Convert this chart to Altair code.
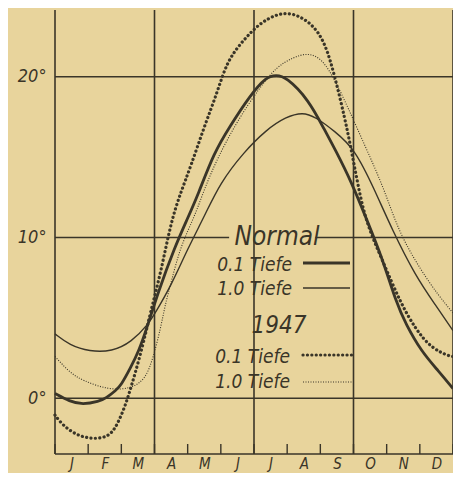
import altair as alt
import pandas as pd

BG = "#e8d49c"
INK = "#3a3528"
FONT = "'DejaVu Sans Condensed', 'Liberation Sans Narrow', 'DejaVu Sans', sans-serif"

# ---- categories / ticks ----
months = ["J", "F", "M", "A", "M", "J", "J", "A", "S", "O", "N", "D"]
month_centers = [i + 0.5 for i in range(12)]
month_bounds = list(range(13))
grid_months = [0, 3, 6, 9, 12]
y_ticks = [0, 10, 20]
y_bottom, y_top = -3.47, 24.15

# ---- series (x = month position 0..12, y = temperature °C) ----
normal01_m = [0, 0.44, 0.83, 1.33, 1.54, 1.84, 1.99, 2.28, 2.52, 2.76, 3.11, 3.61, 4.0, 4.30,
              4.80, 5.27, 5.87, 6.37, 6.67, 6.96, 7.64, 8.15, 8.44, 8.95, 9.42, 9.87, 10.28,
              10.58, 11.05, 11.56, 12.0]
normal01_t = [0.3, -0.2, -0.4, -0.2, 0.0, 0.5, 0.8, 1.9, 2.9, 4.3, 6.6, 9.4, 11.2, 12.6,
              15.3, 16.9, 18.8, 20.0, 20.1, 20.0, 18.6, 16.6, 15.5, 13.4, 11.0, 8.7, 6.0,
              4.6, 2.9, 1.7, 0.6]

normal10_m = [0, 0.44, 1.04, 1.72, 2.31, 2.81, 3.02, 3.50, 4.0, 4.50, 4.98, 5.69, 6.37,
              6.96, 7.47, 7.85, 8.44, 9.04, 9.63, 10.16, 10.87, 11.47, 12.0]
normal10_t = [4.0, 3.3, 2.9, 2.9, 3.5, 4.6, 5.3, 7.0, 9.3, 11.3, 13.4, 15.3, 16.7,
              17.5, 17.8, 17.5, 16.6, 15.5, 13.0, 10.5, 7.6, 5.8, 4.2]

y1947_01_m = [0, 0.24, 0.65, 1.04, 1.42, 1.72, 1.93, 2.13, 2.31, 2.52, 2.73, 2.85, 3.2,
              3.50, 3.79, 4.09, 4.50, 4.89, 5.19, 5.69, 6.16, 6.67, 7.17, 7.76, 8.15, 8.44,
              8.74, 8.93, 9.12, 9.38, 9.87, 10.4, 10.87, 11.35, 11.91, 12.0]
y1947_01_t = [-1.05, -1.7, -2.3, -2.5, -2.5, -2.2, -1.4, -0.4, 0.8, 2.3, 4.0, 5.1, 7.9,
              11.0, 12.8, 14.4, 16.9, 19.0, 21.0, 22.3, 23.3, 23.9, 24.0, 23.3, 22.1, 20.0,
              17.4, 15.5, 13.4, 10.9, 8.6, 6.0, 4.3, 3.1, 2.6, 2.6]

y1947_10_m = [0, 0.44, 0.83, 1.63, 2.31, 2.73, 2.96, 3.2, 3.32, 3.5, 3.79, 4.21, 4.50,
              4.89, 5.48, 6.16, 6.67, 7.17, 7.64, 8.06, 8.44, 8.83, 9.39, 9.93, 10.37,
              11.05, 11.56, 12.0]
y1947_10_t = [2.6, 1.6, 1.1, 0.5, 0.6, 1.2, 2.5, 4.5, 5.8, 7.2, 9.5, 11.3, 13.0,
              14.9, 17.2, 19.3, 20.6, 21.2, 21.5, 21.1, 19.8, 18.1, 15.5, 13.0, 10.3,
              7.9, 6.4, 5.3]

# horizontal reference lines: temperature, start month, end month
hline_t = [0, 10, 10, 20, y_bottom]
hline_m0 = [0, 0, 7.85, 0, 0]
hline_m1 = [12, 5.25, 12, 12, 12]

W, H = 398, 444

xs = alt.Scale(domain=[0, 12], nice=False, zero=False)
ys = alt.Scale(domain=[y_bottom, y_top], nice=False, zero=False)

months_js = "[" + ",".join(f"'{m}'" for m in months) + "]"
x_axis = alt.Axis(values=month_centers, labelExpr=f"{months_js}[floor(datum.value)]",
                  ticks=False, domain=False, grid=False, title=None, labelFont=FONT,
                  labelFontStyle="italic", labelFontSize=15, labelColor=INK,
                  labelPadding=2, labelFlush=False)
y_axis = alt.Axis(values=y_ticks, labelExpr="datum.value + '°'", ticks=False, domain=False,
                  grid=False, title=None, labelFont=FONT, labelFontStyle="italic",
                  labelFontSize=18, labelColor=INK, labelPadding=9)

X = lambda f: alt.X(f, scale=xs, axis=x_axis)
Y = lambda f: alt.Y(f, scale=ys, axis=y_axis)

vlines = alt.Chart(pd.DataFrame({"m": grid_months})).mark_rule(color=INK, strokeWidth=1.6).encode(
    x=X("m:Q"), y=alt.value(0), y2=alt.value(H))

bound_ticks = alt.Chart(pd.DataFrame({"m": month_bounds})).mark_rule(color=INK, strokeWidth=1.4).encode(
    x=X("m:Q"), y=alt.value(H - 10), y2=alt.value(H))

hlines = alt.Chart(pd.DataFrame({"t": hline_t, "m0": hline_m0, "m1": hline_m1})).mark_rule(
    color=INK, strokeWidth=1.6).encode(y=Y("t:Q"), x=X("m0:Q"), x2="m1:Q")


def curve(ms, ts, **style):
    return alt.Chart(pd.DataFrame({"m": ms, "t": ts})).mark_line(
        interpolate="basis", color=INK, **style).encode(x=X("m:Q"), y=Y("t:Q"))


c_n01 = curve(normal01_m, normal01_t, strokeWidth=2.8)
c_n10 = curve(normal10_m, normal10_t, strokeWidth=1.4)
c_y01 = curve(y1947_01_m, y1947_01_t, strokeWidth=3.2, strokeDash=[0.1, 4.3], strokeCap="round")
c_y10 = curve(y1947_10_m, y1947_10_t, strokeWidth=1.1, strokeDash=[1, 1.5])


def label(txt, x, y, size, align):
    return alt.Chart(pd.DataFrame({"label": [txt]})).mark_text(
        font=FONT, fontStyle="italic", fontSize=size, color=INK, align=align,
        baseline="alphabetic").encode(text="label:N", x=alt.value(x), y=alt.value(y))


def sample(x0, x1, y, **style):
    return alt.Chart(pd.DataFrame({"k": [0]})).mark_rule(color=INK, **style).encode(
        x=alt.value(x0), x2=alt.value(x1), y=alt.value(y))


legend = [
    label("Normal", 222, 235, 26, "center"),
    label("0.1 Tiefe", 237, 261, 19, "right"),
    label("1.0 Tiefe", 237, 285, 19, "right"),
    label("1947", 224, 323, 24, "center"),
    label("0.1 Tiefe", 235, 353, 19, "right"),
    label("1.0 Tiefe", 235, 378, 19, "right"),
    sample(248, 295, 253, strokeWidth=2.8),
    sample(248, 295, 278, strokeWidth=1.4),
    sample(248, 299, 345, strokeWidth=3.2, strokeDash=[0.1, 4.3], strokeCap="round"),
    sample(248, 299, 372, strokeWidth=1.1, strokeDash=[1, 1.5]),
]

chart = alt.layer(hlines, vlines, bound_ticks, c_n10, c_y10, c_n01, c_y01, *legend).properties(
    width=W, height=H, background=BG, autosize="none",
    padding={"left": 47, "top": 2, "right": 0, "bottom": 19},
).configure_view(stroke=None)

chart.save("out.html", embed_options={"renderer": "svg", "actions": False})
